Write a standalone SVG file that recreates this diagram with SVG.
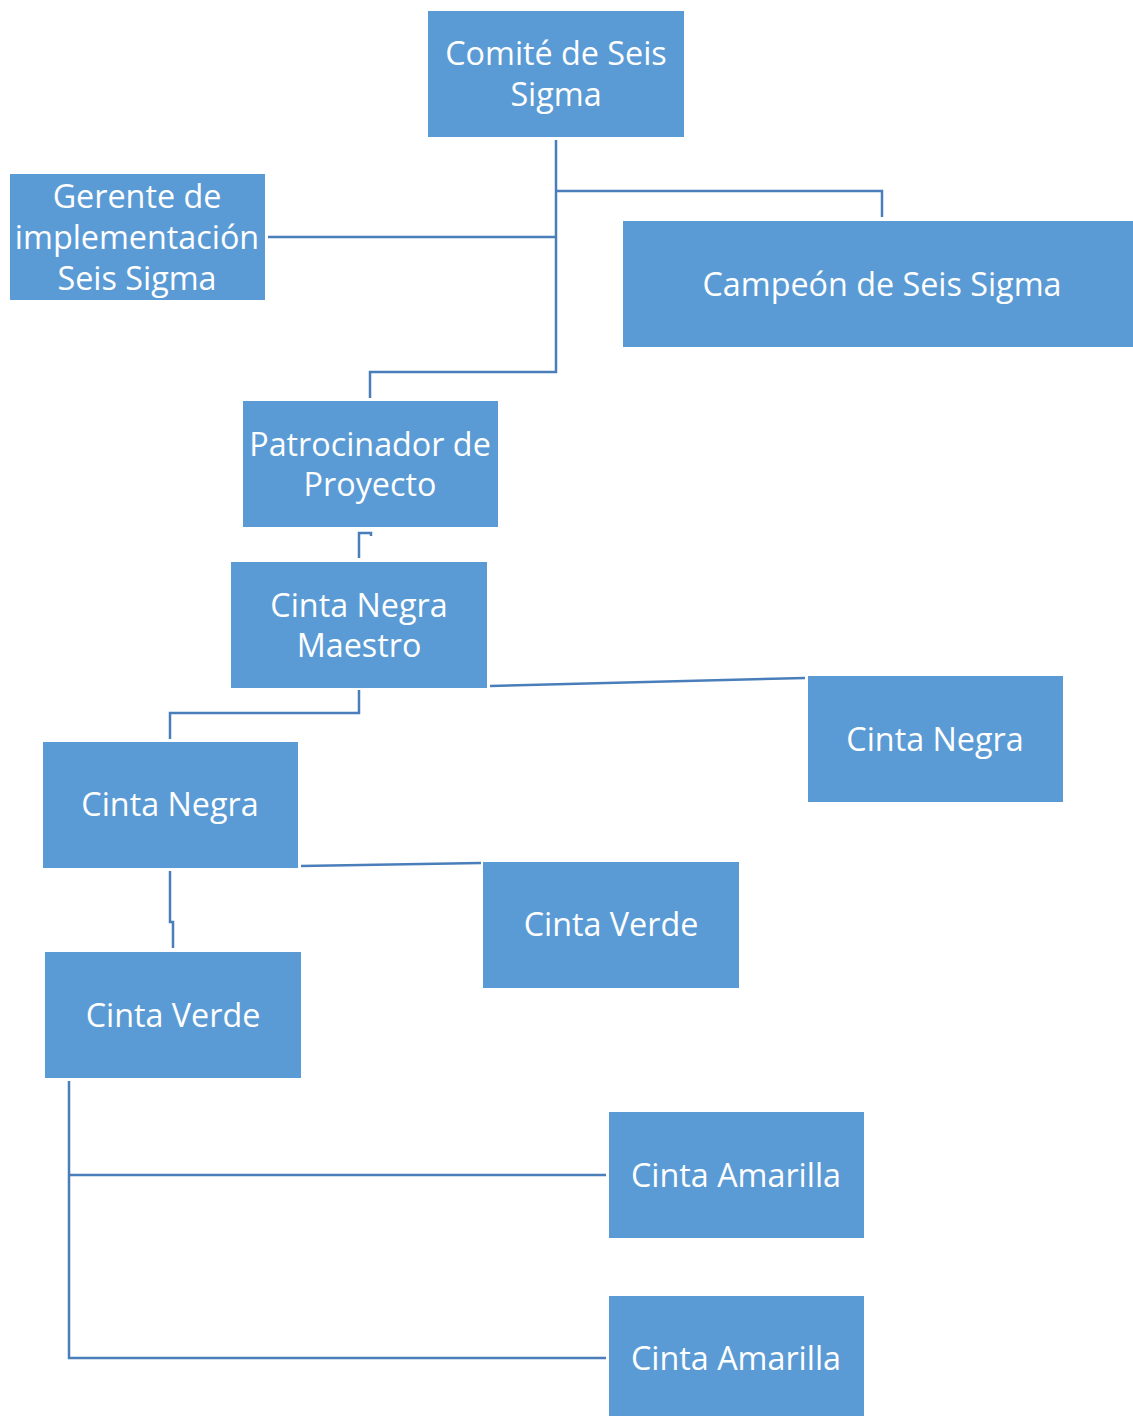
<svg xmlns="http://www.w3.org/2000/svg" width="1133" height="1416" viewBox="0 0 1133 1416">
<style>
.box{fill:#5B9BD5;}
.t{fill:#FFFFFF;font-family:"Open Sans","Liberation Sans",sans-serif;font-size:32.3px;text-anchor:middle;dominant-baseline:central;}
.c{fill:none;stroke:#4A7EBB;stroke-width:2.5;}
</style>
<rect width="1133" height="1416" fill="#FFFFFF"/>
<g id="connectors">
<polyline class="c" points="556,140 556,372 370,372 370,398"/>
<polyline class="c" points="556,191 882,191 882,217"/>
<polyline class="c" points="268,237 556,237"/>
<polyline class="c" points="359,558 359,533 371,533 371,536"/>
<polyline class="c" points="359,690 359,713 170,713 170,739"/>
<polyline class="c" points="490,686 805,678"/>
<polyline class="c" points="301,866 481,863"/>
<polyline class="c" points="170,871 170,922 173,922 173,948"/>
<polyline class="c" points="69,1081 69,1358 606,1358"/>
<polyline class="c" points="69,1175 606,1175"/>
</g>
<g id="comite"><rect class="box" x="428" y="11" width="256" height="126"/><text class="t" x="556" y="52">Comité de Seis</text><text class="t" x="556" y="93">Sigma</text></g>
<g id="gerente"><rect class="box" x="10" y="174" width="255" height="126"/><text class="t" x="137" y="195">Gerente de</text><text class="t" x="137" y="236">implementación</text><text class="t" x="137" y="277">Seis Sigma</text></g>
<g id="campeon"><rect class="box" x="623" y="221" width="510" height="126"/><text class="t" x="882" y="283">Campeón de Seis Sigma</text></g>
<g id="patrocinador"><rect class="box" x="243" y="401" width="255" height="126"/><text class="t" x="370" y="443">Patrocinador de</text><text class="t" x="370" y="483">Proyecto</text></g>
<g id="cnm"><rect class="box" x="231" y="562" width="256" height="126"/><text class="t" x="359" y="604">Cinta Negra</text><text class="t" x="359" y="644">Maestro</text></g>
<g id="cn-right"><rect class="box" x="808" y="676" width="255" height="126"/><text class="t" x="935" y="738">Cinta Negra</text></g>
<g id="cn-left"><rect class="box" x="43" y="742" width="255" height="126"/><text class="t" x="170" y="803">Cinta Negra</text></g>
<g id="cv-mid"><rect class="box" x="483" y="862" width="256" height="126"/><text class="t" x="611" y="923">Cinta Verde</text></g>
<g id="cv-left"><rect class="box" x="45" y="952" width="256" height="126"/><text class="t" x="173" y="1014">Cinta Verde</text></g>
<g id="ca-1"><rect class="box" x="609" y="1112" width="255" height="126"/><text class="t" x="736" y="1174">Cinta Amarilla</text></g>
<g id="ca-2"><rect class="box" x="609" y="1296" width="255" height="126"/><text class="t" x="736" y="1357">Cinta Amarilla</text></g>
</svg>
